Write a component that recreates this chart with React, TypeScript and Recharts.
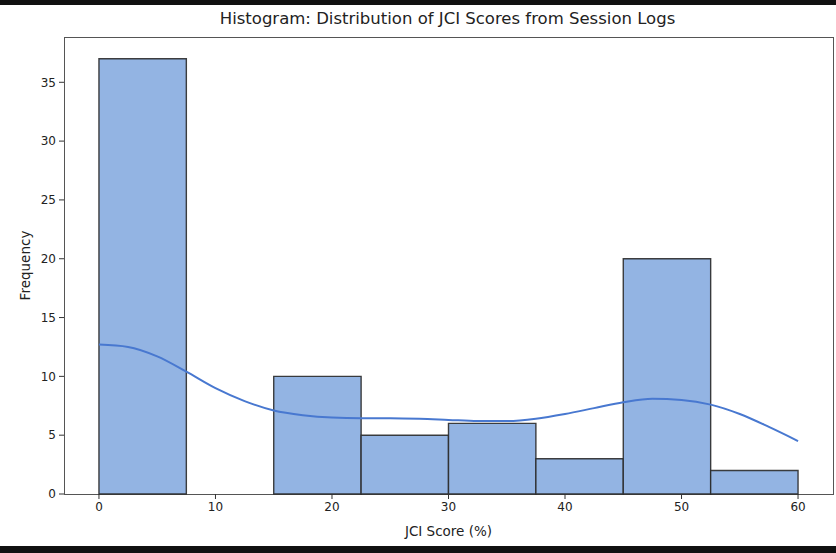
import React from 'react';
import {
  ComposedChart,
  Line,
  XAxis,
  YAxis,
  ReferenceArea,
} from 'recharts';

// histogram bins (width 7.5) and counts
const binStarts = [0, 7.5, 15, 22.5, 30, 37.5, 45, 52.5];
const binWidth = 7.5;
const counts = [37, 0, 10, 5, 6, 3, 20, 2];

// kde curve
const kdeX = [0, 2.5, 5, 7.5, 10, 12.5, 15, 17.5, 20, 22.5, 25, 27.5, 30, 32.5, 35, 37.5, 40, 42.5, 45, 47.5, 50, 52.5, 55, 57.5, 60];
const kdeY = [12.7, 12.5, 11.7, 10.4, 9.0, 7.9, 7.1, 6.7, 6.5, 6.45, 6.45, 6.4, 6.3, 6.2, 6.2, 6.4, 6.8, 7.3, 7.8, 8.1, 8.0, 7.6, 6.8, 5.7, 4.5];

const xTicks = [0, 10, 20, 30, 40, 50, 60];
const yTicks = [0, 5, 10, 15, 20, 25, 30, 35];

const kdeData = kdeX.map((x, i) => ({ x, y: kdeY[i] }));

const FONT = 'DejaVu Sans, sans-serif';
const tickStyle = { fill: '#222', fontSize: 12, fontFamily: FONT };
const labelStyle = { fill: '#222', fontSize: 13.5, fontFamily: FONT };

export default function App() {
  return (
    <div style={{ position: 'absolute', left: 0, top: 0, width: 836, height: 553, background: '#fff', fontFamily: FONT }}>
      <div style={{ position: 'absolute', left: 0, top: 0, width: 836, height: 5, background: '#111' }} />
      <div style={{ position: 'absolute', left: 0, top: 546, width: 836, height: 7, background: '#111' }} />
      <div style={{ position: 'absolute', left: 0, top: 9, width: 895, textAlign: 'center', fontSize: 16.5, color: '#222' }}>
        Histogram: Distribution of JCI Scores from Session Logs
      </div>
      <div style={{ position: 'absolute', left: 64, top: 37, width: 768, height: 456, border: '1px solid #555' }} />
      <div style={{ position: 'absolute', left: 0, top: 0 }}>
        <ComposedChart width={836} height={553} data={kdeData} margin={{ top: 37, right: 3, left: 0, bottom: 0 }}>
          <XAxis
            dataKey="x"
            type="number"
            domain={[-3, 63]}
            ticks={xTicks}
            allowDataOverflow
            height={59}
            tickSize={5}
            tickMargin={3}
            axisLine={false}
            tickLine={{ stroke: '#333' }}
            tick={tickStyle}
            label={{ value: 'JCI Score (%)', position: 'insideBottom', offset: 17, style: labelStyle }}
          />
          <YAxis
            type="number"
            domain={[0, 38.85]}
            ticks={yTicks}
            allowDataOverflow
            width={64}
            tickSize={5}
            tickMargin={3}
            axisLine={false}
            tickLine={{ stroke: '#333' }}
            tick={tickStyle}
            label={{ value: 'Frequency', angle: -90, position: 'insideLeft', offset: 25, style: { ...labelStyle, textAnchor: 'middle' } }}
          />
          {binStarts.map((s, i) =>
            counts[i] > 0 ? (
              <ReferenceArea
                key={i}
                x1={s}
                x2={s + binWidth}
                y1={0}
                y2={counts[i]}
                fill="#93B4E3"
                fillOpacity={1}
                stroke="#2a2a2a"
                strokeWidth={1.4}
                strokeOpacity={0.9}
              />
            ) : null
          )}
          <Line
            type="monotone"
            dataKey="y"
            stroke="#4878D0"
            strokeWidth={2}
            dot={false}
            activeDot={false}
            isAnimationActive={false}
          />
        </ComposedChart>
      </div>
    </div>
  );
}
